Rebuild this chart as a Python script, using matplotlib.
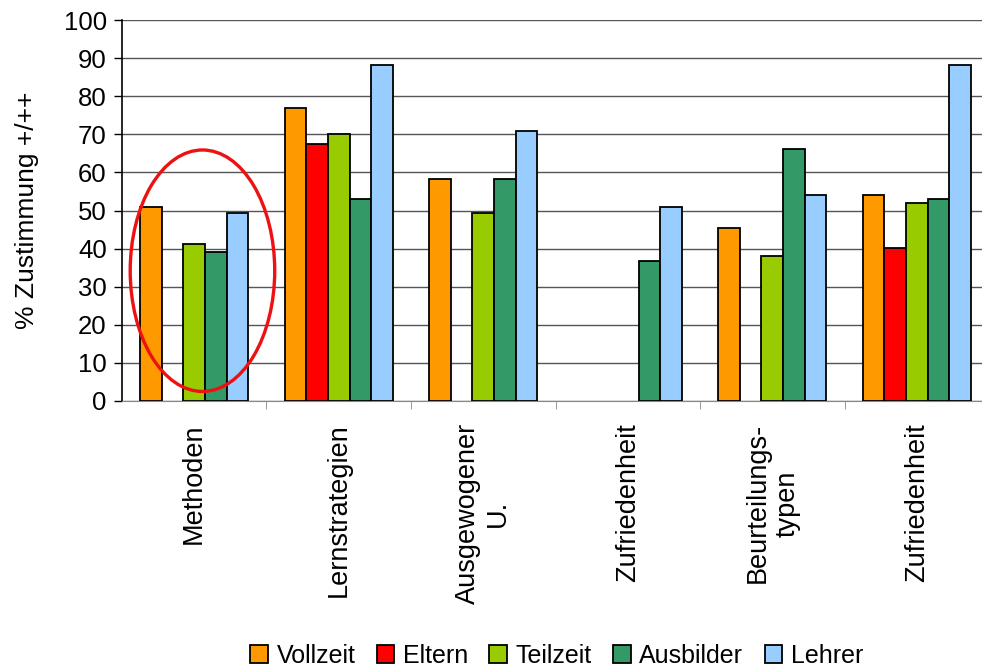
import numpy as np
import matplotlib.pyplot as plt
from matplotlib.patches import Ellipse

plt.rcParams['font.family'] = ['Liberation Sans', 'DejaVu Sans']

categories = ["Methoden", "Lernstrategien", "Ausgewogener\nU.", "Zufriedenheit",
              "Beurteilungs-\ntypen", "Zufriedenheit"]
groups = ["Vollzeit", "Eltern", "Teilzeit", "Ausbilder", "Lehrer"]
colors = ["#FF9900", "#FF0000", "#99CC00", "#339966", "#99CCFF"]

nan = np.nan
vollzeit = [51, 77, 58.3, nan, 45.3, 54.2]
eltern = [nan, 67.4, nan, nan, nan, 40.2]
teilzeit = [41.3, 70, 49.3, nan, 38, 52]
ausbilder = [39, 53.1, 58.3, 36.7, 66.1, 53.1]
lehrer = [49.3, 88.3, 71, 51, 54.2, 88.2]
series = [vollzeit, eltern, teilzeit, ausbilder, lehrer]

fig = plt.figure(figsize=(9.82, 6.70), dpi=100)
ax = fig.add_axes([0.1242, 0.4015, 0.883, 0.5685])

x = np.arange(len(categories))
w = 0.15
for i, (vals, c, name) in enumerate(zip(series, colors, groups)):
    ax.bar(x + (i - 2) * w, vals, w, color=c, edgecolor="black", linewidth=1.3,
           label=name, zorder=3)

ax.set_xlim(-0.5, len(categories) - 0.5)
ax.set_ylim(0, 100)
ax.set_yticks(range(0, 101, 10))
ax.yaxis.grid(True, color="#555555", linewidth=1.0, zorder=0)
ax.tick_params(axis="y", labelsize=18.5, length=6, width=1, pad=5)

ax.set_xticks(x)
ax.set_xticklabels(categories, rotation=90, fontsize=19.5, va="top",
                   ha="center", multialignment="center")
ax.set_xticks(np.arange(0.5, len(categories) - 0.5), minor=True)
ax.tick_params(axis="x", which="major", length=0, pad=16)
ax.tick_params(axis="x", which="minor", length=6, color="#888888")

for s in ["top", "right"]:
    ax.spines[s].set_visible(False)
ax.spines["bottom"].set_color("#888888")
ax.spines["left"].set_linewidth(1.2)

ax.set_ylabel("% Zustimmung +/++", fontsize=19, labelpad=18)

ax.add_patch(Ellipse((0.057, 34.2), 1.0, 63.4, fill=False, edgecolor="#EE1111",
                     linewidth=2.4, zorder=5))

fig.legend(loc="center", bbox_to_anchor=(0.567, 0.021), ncol=5, frameon=False,
           fontsize=18, handlelength=0.7, handleheight=0.7,
           handletextpad=0.35, columnspacing=0.85, borderaxespad=0)

fig.savefig("out.png", dpi=100)
